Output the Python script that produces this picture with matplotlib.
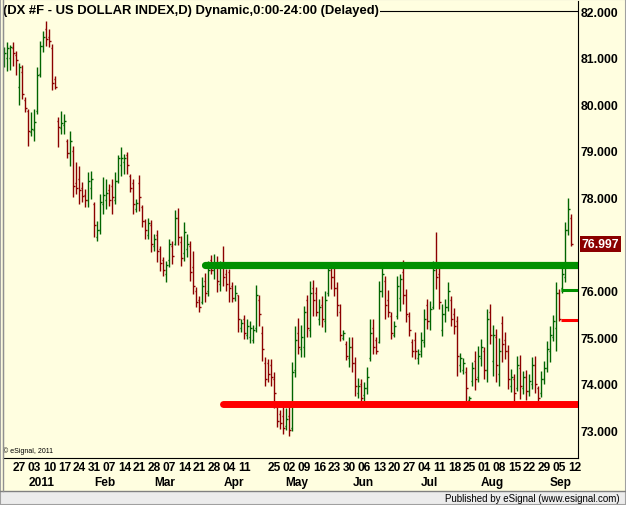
#%% IMPORTS
import numpy as np
import pandas as pd
import matplotlib
matplotlib.use("Agg")
import matplotlib.pyplot as plt
from matplotlib.collections import LineCollection
from matplotlib.patches import Rectangle
from matplotlib.lines import Line2D

#%% DATA  (DX #F daily bars)
highs = [81.23, 81.34, 81.27, 81.34, 81.14, 80.88, 80.84, 80.15, 79.90, 79.83,
         79.90, 80.80, 81.36, 81.57, 81.79, 81.61, 81.29, 80.61, 79.73, 79.85,
         79.79, 79.25, 79.43, 79.10, 78.76, 78.67, 78.33, 78.18, 78.55, 78.57,
         77.90, 77.49, 78.07, 78.44, 78.40, 78.29, 78.40, 78.55, 78.91, 79.08,
         78.93, 78.97, 78.50, 78.40, 77.97, 78.48, 77.84, 77.54, 77.56, 77.52,
         77.22, 77.30, 76.96, 76.72, 76.64, 77.11, 77.06, 77.73, 77.77, 77.17,
         77.47, 77.22, 77.06, 76.85, 76.08, 75.88, 76.29, 76.38, 76.64, 76.76,
         76.79, 76.74, 76.64, 76.96, 76.46, 76.46, 76.18, 76.12, 75.91, 75.39,
         75.48, 75.39, 75.35, 75.26, 76.12, 75.91, 75.24, 74.58, 74.53, 74.53,
         74.25, 73.55, 73.44, 73.52, 73.48, 73.52, 74.47, 75.24, 75.41, 75.26,
         75.67, 75.91, 76.21, 76.23, 76.08, 75.82, 75.88, 75.99, 76.61, 76.59,
         76.49, 76.18, 75.71, 75.16, 74.92, 75.00, 75.00, 74.58, 74.13, 74.10,
         74.04, 74.36, 75.39, 75.39, 75.00, 76.21, 76.57, 76.31, 76.01, 75.54,
         75.35, 76.31, 76.36, 76.66, 76.03, 75.54, 74.96, 75.11, 74.75, 75.11,
         75.61, 75.82, 75.78, 76.64, 77.26, 76.51, 75.71, 75.82, 76.18, 75.88,
         75.63, 75.46, 74.66, 74.55, 74.36, 73.74, 74.47, 74.70, 74.81, 74.96,
         74.79, 75.61, 75.71, 75.26, 75.18, 74.98, 75.46, 75.11, 74.83, 74.32,
         74.21, 74.60, 74.62, 74.28, 74.30, 74.21, 74.58, 74.60, 73.95, 74.28,
         74.49, 74.92, 75.24, 75.48, 76.18, 76.03, 76.50, 77.47, 77.99, 77.64]
lows = [80.80, 80.71, 80.73, 80.82, 80.63, 79.98, 80.11, 79.83, 79.10, 79.32,
        79.21, 79.79, 80.58, 81.12, 81.25, 81.23, 80.31, 80.33, 79.08, 79.36,
        79.36, 78.85, 78.67, 78.01, 78.07, 77.86, 77.90, 77.79, 77.79, 77.97,
        77.15, 77.06, 77.21, 77.64, 77.75, 77.82, 77.64, 77.86, 78.31, 78.46,
        78.50, 78.50, 78.12, 77.64, 77.69, 77.71, 77.37, 77.11, 77.11, 76.83,
        76.85, 76.61, 76.42, 76.31, 76.18, 76.51, 76.57, 76.98, 76.98, 76.53,
        76.64, 76.72, 76.21, 75.93, 75.65, 75.54, 75.71, 75.76, 75.88, 76.36,
        76.25, 75.97, 75.99, 76.10, 75.99, 75.76, 75.76, 75.78, 75.11, 75.11,
        74.96, 74.96, 74.88, 74.88, 75.11, 75.24, 74.49, 73.95, 74.04, 73.95,
        73.48, 73.07, 73.03, 72.92, 73.01, 72.88, 72.99, 74.15, 74.64, 74.58,
        74.58, 75.00, 75.00, 75.46, 75.46, 75.26, 75.22, 75.11, 75.88, 76.03,
        75.88, 75.46, 74.92, 74.94, 74.51, 74.36, 74.25, 73.74, 73.70, 73.52,
        73.63, 73.78, 74.49, 74.64, 74.64, 74.88, 75.86, 75.39, 75.43, 74.96,
        75.00, 75.39, 75.56, 75.71, 75.33, 75.03, 74.58, 74.53, 74.43, 74.58,
        74.79, 75.18, 75.16, 75.61, 76.03, 75.61, 75.03, 75.33, 75.56, 75.24,
        75.07, 74.17, 74.25, 74.21, 73.63, 73.61, 73.95, 73.87, 74.04, 74.38,
        74.10, 74.04, 74.85, 74.17, 74.04, 73.95, 74.47, 74.53, 73.89, 73.82,
        73.55, 73.85, 73.67, 73.78, 73.65, 73.74, 73.89, 73.80, 73.61, 73.72,
        74.00, 74.25, 74.47, 74.92, 74.70, 75.35, 75.95, 76.18, 77.19, 76.95]
opens = [80.95, 81.00, 81.00, 81.20, 81.05, 80.38, 80.70, 80.10, 79.85, 79.40,
         79.45, 79.85, 80.65, 81.25, 81.62, 81.45, 81.20, 80.55, 79.65, 79.50,
         79.55, 79.20, 78.95, 79.00, 78.30, 78.40, 78.20, 78.05, 77.95, 78.20,
         77.85, 77.15, 77.30, 77.85, 77.95, 78.15, 78.25, 77.95, 78.35, 78.70,
         78.75, 78.90, 78.45, 78.30, 77.75, 78.30, 77.80, 77.50, 77.20, 77.40,
         76.95, 77.20, 76.90, 76.65, 76.35, 76.65, 76.95, 77.00, 77.55, 77.05,
         76.80, 76.90, 76.95, 76.50, 76.00, 75.80, 75.75, 76.20, 76.00, 76.65,
         76.45, 76.60, 76.15, 76.50, 76.35, 76.40, 76.10, 75.85, 75.90, 75.20,
         75.40, 75.05, 75.00, 74.95, 75.20, 75.80, 75.10, 74.45, 74.45, 74.40,
         74.10, 73.50, 73.35, 73.30, 73.10, 73.30, 73.05, 74.30, 75.10, 74.75,
         74.80, 75.80, 75.15, 76.05, 75.95, 75.40, 75.70, 75.35, 75.95, 76.50,
         76.30, 76.05, 75.55, 74.98, 74.85, 74.55, 74.80, 74.45, 73.80, 74.00,
         73.75, 73.90, 74.55, 75.20, 74.95, 74.90, 76.00, 76.20, 75.80, 75.45,
         75.05, 75.45, 75.85, 76.40, 75.90, 75.45, 74.90, 74.95, 74.55, 74.70,
         74.90, 75.70, 75.35, 75.65, 76.55, 76.35, 75.15, 75.50, 75.65, 75.80,
         75.50, 75.35, 74.40, 74.30, 74.25, 73.65, 74.05, 74.50, 74.15, 74.55,
         74.70, 74.30, 75.55, 74.50, 75.00, 74.20, 75.30, 74.95, 74.70, 73.95,
         74.10, 73.90, 74.35, 73.90, 74.15, 73.85, 74.00, 74.40, 73.90, 73.80,
         74.10, 74.35, 74.70, 75.00, 75.20, 75.95, 76.05, 76.30, 77.30, 77.55]
closes = [81.10, 81.20, 81.22, 81.10, 80.95, 80.80, 80.22, 79.92, 79.42, 79.47,
          79.62, 80.62, 81.25, 81.45, 81.40, 81.35, 80.45, 80.36, 79.51, 79.60,
          79.65, 78.95, 79.20, 78.25, 78.20, 78.15, 78.02, 77.95, 78.35, 78.40,
          77.40, 77.30, 77.90, 78.05, 78.10, 77.95, 78.00, 78.35, 78.85, 78.85,
          78.85, 78.70, 78.20, 77.85, 77.88, 78.00, 77.50, 77.30, 77.45, 77.00,
          77.10, 76.85, 76.60, 76.45, 76.55, 77.00, 76.75, 77.55, 77.15, 76.70,
          77.25, 77.00, 76.40, 76.10, 75.75, 75.65, 76.10, 75.95, 76.45, 76.45,
          76.60, 76.20, 76.50, 76.30, 76.15, 76.05, 75.85, 75.95, 75.40, 75.30,
          75.10, 75.25, 75.20, 75.15, 75.90, 75.50, 74.75, 74.10, 74.20, 74.15,
          73.80, 73.20, 73.15, 73.05, 73.25, 73.00, 74.25, 74.95, 74.80, 75.00,
          75.55, 75.20, 75.95, 75.80, 75.55, 75.65, 75.40, 75.80, 76.45, 76.30,
          76.05, 75.70, 75.05, 75.10, 74.60, 74.80, 74.45, 73.95, 73.95, 73.70,
          73.90, 74.15, 75.10, 74.80, 74.70, 76.00, 76.35, 75.70, 75.55, 75.10,
          75.25, 76.10, 76.25, 75.90, 75.50, 75.15, 74.70, 74.70, 74.65, 74.95,
          75.40, 75.35, 75.60, 76.45, 76.30, 75.75, 75.50, 75.65, 76.00, 75.40,
          75.25, 74.60, 74.55, 74.45, 73.90, 73.70, 74.35, 74.10, 74.60, 74.80,
          74.30, 75.40, 75.05, 75.05, 74.40, 74.70, 74.85, 74.70, 74.10, 74.15,
          73.80, 74.40, 73.95, 74.15, 73.85, 74.05, 74.40, 74.00, 73.70, 74.10,
          74.35, 74.75, 75.05, 75.35, 75.95, 75.40, 76.35, 77.30, 77.75, 76.997]

last_price = 76.997
first_day = "2010-12-20"
last_label_day = "2011-09-12"

# drawn levels: (value, start date)
resist_level, resist_start = 76.55, "2011-03-23"
support_level, support_start = 73.57, "2011-03-31"
short_green, short_red, short_start = 76.01, 75.37, "2011-09-06"

hidden_weeks = ["2010-12-20", "2011-04-18"]   # labels not shown on the original
y_ticks = [73, 74, 75, 76, 77, 78, 79, 80, 81, 82]
title = "(DX #F - US DOLLAR INDEX,D) Dynamic,0:00-24:00 (Delayed)"

#%% STYLE
bg = "#FFFEE0"
up_col = "#006400"
dn_col = "#8B0000"
plt.rcParams["font.family"] = ["Liberation Sans", "DejaVu Sans"]

W, H = 626, 506
fig = plt.figure(figsize=(W / 100, H / 100), dpi=100)
fig.patch.set_facecolor(bg)
ax = fig.add_axes([3 / W, (H - 459) / H, 575 / W, 457 / H])
ax.set_facecolor(bg)

n = len(highs)
cal = pd.bdate_range(first_day, last_label_day)
dates = cal[:n]
xs = np.arange(n)

#%% OHLC BARS
segs, cols = [], []
for i in xs:
    c = up_col if closes[i] >= opens[i] else dn_col
    segs += [[(i, lows[i]), (i, highs[i])],
             [(i - 0.45, opens[i]), (i, opens[i])],
             [(i, closes[i]), (i + 0.45, closes[i])]]
    cols += [c, c, c]
ax.add_collection(LineCollection(segs, colors=cols, linewidths=1.0))

#%% LEVEL LINES
x_end = n + 5
gi = cal.get_loc(pd.Timestamp(resist_start))
ri = cal.get_loc(pd.Timestamp(support_start))
si = cal.get_loc(pd.Timestamp(short_start)) - 0.5
ax.plot([gi, x_end], [resist_level] * 2, color="#009000", lw=5.2, solid_capstyle="round", zorder=3)
ax.plot([ri, x_end], [support_level] * 2, color="#FF0000", lw=5.0, solid_capstyle="round", zorder=3)
ax.plot([si, x_end], [short_green] * 2, color="#009000", lw=2.2, solid_capstyle="butt", zorder=3)
ax.plot([si, x_end], [short_red] * 2, color="#FF0000", lw=2.2, solid_capstyle="butt", zorder=3)

ax.axhline(82, color="black", lw=0.8, zorder=1)

ax.set_xlim(-0.5, 191.17)
ax.set_ylim(72.408, 82.215)

#%% AXES
ax.spines["top"].set_visible(False)
ax.spines["left"].set_color("#909090")
ax.spines["right"].set_color("black")
ax.spines["bottom"].set_color("black")

ax.yaxis.tick_right()
ax.set_yticks(y_ticks)
ax.set_yticklabels(["%.3f" % v for v in y_ticks], fontsize=8.8, fontweight="bold")
ax.tick_params(axis="y", length=0, pad=2)
ax.set_xticks([])

ax.text(0.0, 82.02, title, fontsize=9.4, fontweight="bold", va="center", ha="left",
        transform=ax.get_yaxis_transform(), zorder=5,
        bbox=dict(boxstyle="square,pad=0.1", fc=bg, ec="none"))
ax.text(3, 72.58, "\u00a9 eSignal, 2011", fontsize=5, ha="left", va="center",
        transform=matplotlib.transforms.blended_transform_factory(
            matplotlib.transforms.IdentityTransform(), ax.transData))

# last price box
ax.annotate("%.3f" % last_price, xy=(1, last_price), xycoords=("axes fraction", "data"),
            xytext=(4, 0), textcoords="offset pixels", ha="left", va="center",
            color="white", fontsize=8.8, fontweight="bold", annotation_clip=False,
            bbox=dict(boxstyle="square,pad=0.15", fc="#8B0000", ec="none"))

# week labels
wk = pd.Series(np.arange(len(cal)), index=cal).groupby(cal.to_period("W-SUN")).min()
for per, idx in wk.items():
    if str(per.start_time.date()) in hidden_weeks:
        continue
    ax.annotate(per.start_time.strftime("%d"), xy=(idx, 0), xycoords=("data", "axes fraction"),
                xytext=(0, -9), textcoords="offset pixels", ha="center", va="center",
                fontsize=8.6, fontweight="bold", family=["Liberation Sans Narrow", "Liberation Sans"],
                annotation_clip=False)

# month labels
mon = pd.Series(np.arange(len(cal)), index=cal).groupby(cal.to_period("M")).min()
for j, (per, idx) in enumerate(mon.items()):
    if j == 0:
        continue
    lab = "2011" if per.month == 1 else per.strftime("%b")
    ax.annotate(lab, xy=(idx + 2.5, 0), xycoords=("data", "axes fraction"),
                xytext=(0, -24), textcoords="offset pixels", ha="center", va="center",
                fontsize=8.6, fontweight="bold", annotation_clip=False)

#%% FOOTER AND FRAME
fig.patches.append(Rectangle((0, 0), 1, 14 / H, transform=fig.transFigure,
                             fc="#ECECEC", ec="none", zorder=0))
fig.lines.append(Line2D([0, 1], [14 / H, 14 / H], transform=fig.transFigure, color="#808080", lw=1))
fig.lines.append(Line2D([3 / W, 3 / W], [14 / H, 1], transform=fig.transFigure, color="#909090", lw=1))
fig.patches.append(Rectangle((0, 0), 1, 1, transform=fig.transFigure, fill=False,
                             ec="#A0A0A0", lw=1.5))
fig.text(620 / W, 7 / H, "Published by eSignal (www.esignal.com)", fontsize=7,
         ha="right", va="center")

fig.savefig("out.png", dpi=100, facecolor=bg)
